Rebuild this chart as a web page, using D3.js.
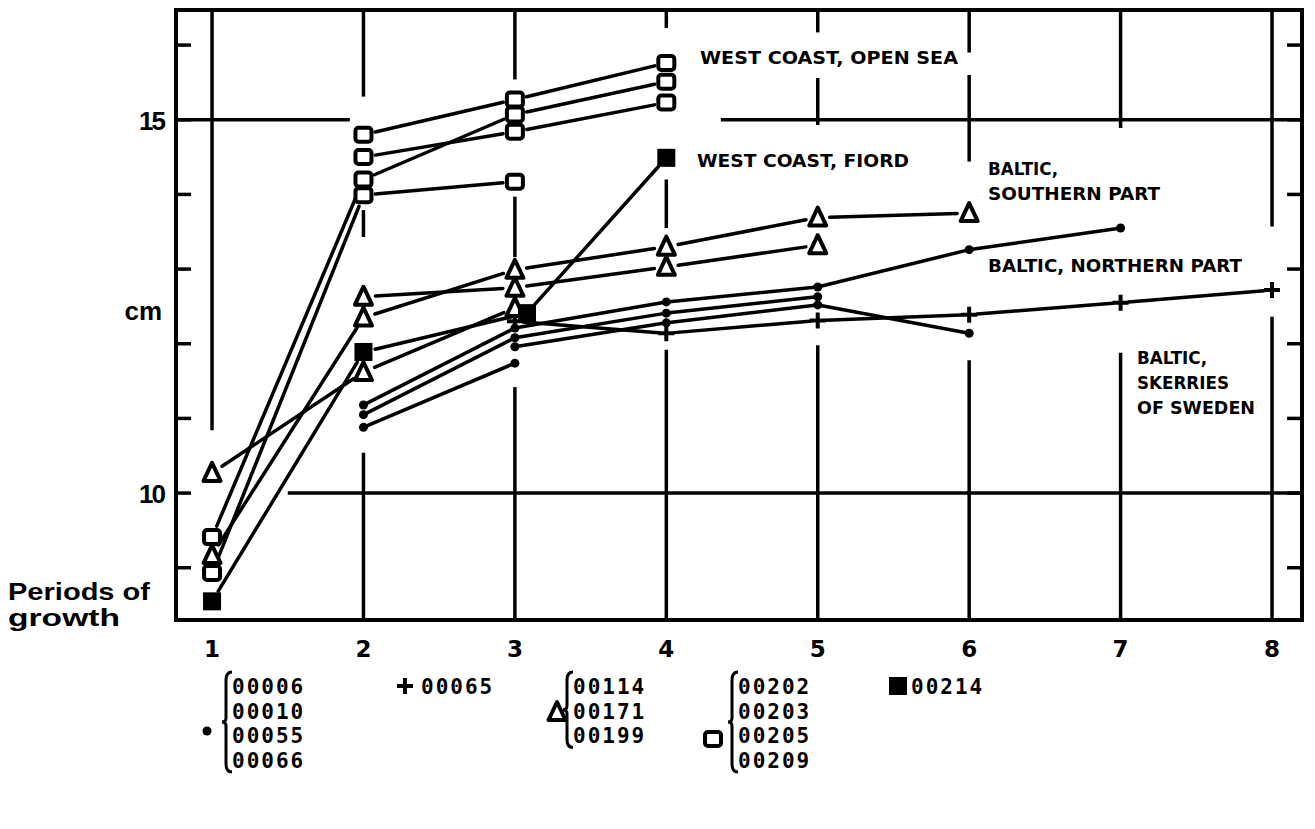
<!DOCTYPE html>
<html>
<head>
<meta charset="utf-8">
<script src="https://cdn.jsdelivr.net/npm/d3@7"></script>
<style>
  body { margin: 0; background: #fff; }
  svg { display: block; }
</style>
</head>
<body>
<div id="chart"></div>
<script>
// periods of growth on the x axis
var periods = [1, 2, 3, 4, 5, 6, 7, 8];
var yTicks = [9, 10, 11, 12, 13, 14, 15, 16];
var yLabels = [10, 15];

// lengths (cm), one value per period, null = no value
var dot00006 = [null, 11.18, 12.21, 12.56, 12.76, 13.26, 13.55];
var dot00010 = [null, 11.05, 12.08, 12.41, 12.63];
var dot00055 = [null, null, 11.96, 12.28, 12.52, 12.14];
var dot00066 = [null, 10.88, 11.74];
var plus00065 = [null, null, 12.30, 12.14, 12.31, 12.39, 12.55, 12.72];
var tri00114 = [9.17, 12.35, 12.99, 13.30, 13.69, 13.75];
var tri00171 = [null, 12.63, 12.75, 13.03, 13.32];
var tri00199 = [10.27, 11.62, 12.48];
var sq00202 = [null, 14.80, 15.27, 15.76];
var sq00203 = [null, 14.50, 14.84, 15.23];
var sq00205 = [9.41, 14.20, 15.07, 15.51];
var sq00209 = [8.93, 13.99, 14.17];
var fsq00214 = [8.55, 11.89, 12.41, 14.49];
var fsqPeriods = [1, 2, 3.08, 4];

var series = [
    {values: dot00006, shape: 'dot'},
    {values: dot00010, shape: 'dot'},
    {values: dot00055, shape: 'dot'},
    {values: dot00066, shape: 'dot'},
    {values: plus00065, shape: 'plus'},
    {values: tri00114, shape: 'tri'},
    {values: tri00171, shape: 'tri'},
    {values: tri00199, shape: 'tri'},
    {values: sq00202, shape: 'sq'},
    {values: sq00203, shape: 'sq'},
    {values: sq00205, shape: 'sq'},
    {values: sq00209, shape: 'sq'},
    {values: fsq00214, shape: 'fsq', periods: fsqPeriods}
];

// broken grid lines, as the original draws them around the data
var vGrid = [
    [1, [[16.47, 10.84]]],
    [2, [[16.47, 15.31], [13.79, 13.43], [10.54, 8.3]]],
    [3, [[16.47, 15.54], [13.97, 13.16], [11.42, 8.3]]],
    [4, [[16.47, 16.23], [14.20, 13.55], [11.92, 8.3]]],
    [5, [[16.47, 16.17], [15.56, 14.93], [11.98, 8.3]]],
    [6, [[16.47, 15.90], [15.60, 14.44], [11.78, 8.3]]],
    [7, [[16.47, 14.89], [11.88, 8.3]]],
    [8, [[16.47, 13.57], [12.36, 8.3]]]
];
var hGrid = [
    [15, [[0.762, 1.91], [4.36, 8.198]]],
    [10, [[1.50, 8.198]]]
];

var notes = [
    {lines: ['WEST COAST, OPEN SEA'], x: 700, y: 64, w: 258},
    {lines: ['WEST COAST, FIORD'], x: 697, y: 167, w: 212},
    {lines: ['BALTIC,', 'SOUTHERN PART'], x: 988, y: 175, w: [70, 172]},
    {lines: ['BALTIC, NORTHERN PART'], x: 988, y: 272, w: 254},
    {lines: ['BALTIC,', 'SKERRIES', 'OF SWEDEN'], x: 1137, y: 364, w: [70, 92, 118]}
];

var dim = {width: 1315, height: 829};

var svg = d3.select('#chart').append('svg')
    .attr('width', dim.width)
    .attr('height', dim.height);

svg.append('rect')
    .attr('width', dim.width)
    .attr('height', dim.height)
    .attr('fill', '#fff');

var x = d3.scaleLinear().domain([0.762, 8.198]).range([176, 1302]);
var y = d3.scaleLinear().domain([8.30, 16.47]).range([620, 10]);

var g = svg.append('g').attr('id', 'main_group');

// grid
vGrid.forEach(function (d) {
    d[1].forEach(function (s) {
        g.append('line')
            .attr('x1', x(d[0])).attr('x2', x(d[0]))
            .attr('y1', y(s[0])).attr('y2', y(s[1]))
            .attr('stroke', '#000').attr('stroke-width', 3.5);
    });
});
hGrid.forEach(function (d) {
    d[1].forEach(function (s) {
        g.append('line')
            .attr('x1', x(s[0])).attr('x2', x(s[1]))
            .attr('y1', y(d[0])).attr('y2', y(d[0]))
            .attr('stroke', '#000').attr('stroke-width', 3.5);
    });
});

// frame + ticks pointing inwards
g.append('rect')
    .attr('x', x(0.762)).attr('y', y(16.47))
    .attr('width', x(8.198) - x(0.762))
    .attr('height', y(8.30) - y(16.47))
    .attr('fill', 'none').attr('stroke', '#000').attr('stroke-width', 4);

g.selectAll('.ltick').data(yTicks).enter().append('line')
    .attr('x1', x(0.762)).attr('x2', x(0.762) + 15)
    .attr('y1', d => y(d)).attr('y2', d => y(d))
    .attr('stroke', '#000').attr('stroke-width', 3.5);
g.selectAll('.rtick').data(yTicks).enter().append('line')
    .attr('x1', x(8.198)).attr('x2', x(8.198) - 15)
    .attr('y1', d => y(d)).attr('y2', d => y(d))
    .attr('stroke', '#000').attr('stroke-width', 3.5);

// axis labels
g.selectAll('.ylab').data(yLabels).enter().append('text')
    .attr('x', 164).attr('y', d => y(d) + 10)
    .attr('text-anchor', 'end')
    .attr('font-family', 'Liberation Sans, Arial, sans-serif')
    .attr('font-weight', 'bold').attr('font-size', 26)
    .attr('letter-spacing', -2)
    .text(d => d);

g.append('text')
    .attr('x', 162).attr('y', y(12.43) + 8)
    .attr('text-anchor', 'end')
    .attr('font-family', 'Liberation Sans, Arial, sans-serif')
    .attr('font-weight', 'bold').attr('font-size', 26)
    .text('cm');

g.selectAll('.pg').data(['Periods of', 'growth']).enter().append('text')
    .attr('x', 8).attr('y', (d, i) => 600 + i * 26)
    .attr('font-family', 'Liberation Sans, Arial, sans-serif')
    .attr('font-weight', 'bold').attr('font-size', 24)
    .attr('textLength', (d, i) => i ? 112 : 142)
    .attr('lengthAdjust', 'spacingAndGlyphs')
    .text(d => d);

g.selectAll('.xlab').data(periods).enter().append('text')
    .attr('x', d => x(d)).attr('y', 657)
    .attr('text-anchor', 'middle')
    .attr('font-family', 'DejaVu Sans, sans-serif')
    .attr('font-weight', 'bold').attr('font-size', 23)
    .text(d => d);

// data lines, stopped short of the markers
var gapFor = {dot: 3, plus: 8, tri: 12, sq: 12, fsq: 12};

series.forEach(function (s) {
    var px = s.periods || periods;
    var pts = [];
    s.values.forEach(function (v, i) {
        if (v != null) pts.push({px: x(px[i]), py: y(v)});
    });
    s.pts = pts;
    var gap = gapFor[s.shape];
    for (var i = 0; i < pts.length - 1; i++) {
        var a = pts[i], b = pts[i + 1];
        var dx = b.px - a.px, dy = b.py - a.py;
        var len = Math.sqrt(dx * dx + dy * dy);
        var ux = dx / len, uy = dy / len;
        g.append('line')
            .attr('x1', a.px + ux * gap).attr('y1', a.py + uy * gap)
            .attr('x2', b.px - ux * gap).attr('y2', b.py - uy * gap)
            .attr('stroke', '#000').attr('stroke-width', 3.5)
            .attr('stroke-linecap', 'round');
    }
});

function drawMarker(sel, shape, cx, cy) {
    if (shape == 'dot') {
        sel.append('circle').attr('cx', cx).attr('cy', cy).attr('r', 4.5).attr('fill', '#000');
    } else if (shape == 'plus') {
        sel.append('path')
            .attr('d', `M${cx - 8},${cy}H${cx + 8}M${cx},${cy - 8}V${cy + 8}`)
            .attr('stroke', '#000').attr('stroke-width', 4);
    } else if (shape == 'tri') {
        sel.append('path')
            .attr('d', `M${cx},${cy - 10}L${cx + 8.5},${cy + 8}L${cx - 8.5},${cy + 8}Z`)
            .attr('fill', '#fff').attr('stroke', '#000').attr('stroke-width', 4)
            .attr('stroke-linejoin', 'round');
    } else if (shape == 'sq') {
        sel.append('rect')
            .attr('x', cx - 8).attr('y', cy - 7).attr('width', 16).attr('height', 14).attr('rx', 3)
            .attr('fill', '#fff').attr('stroke', '#000').attr('stroke-width', 4);
    } else if (shape == 'fsq') {
        sel.append('rect')
            .attr('x', cx - 9).attr('y', cy - 9).attr('width', 18).attr('height', 18)
            .attr('fill', '#000');
    }
}

series.forEach(function (s) {
    s.pts.forEach(function (p) { drawMarker(g, s.shape, p.px, p.py); });
});

// annotations
notes.forEach(function (n) {
    n.lines.forEach(function (t, i) {
        var w = Array.isArray(n.w) ? n.w[i] : n.w;
        g.append('text')
            .attr('x', n.x).attr('y', n.y + i * 25)
            .attr('font-family', 'DejaVu Sans, sans-serif')
            .attr('font-weight', 'bold').attr('font-size', 18)
            .attr('textLength', w).attr('lengthAdjust', 'spacingAndGlyphs')
            .text(t);
    });
});

// legend
var legDot = ['00006', '00010', '00055', '00066'];
var legPlus = ['00065'];
var legTri = ['00114', '00171', '00199'];
var legSq = ['00202', '00203', '00205', '00209'];
var legFsq = ['00214'];

var legend = svg.append('g').attr('id', 'legend');

function brace(x0, top, bottom) {
    var mid = (top + bottom) / 2;
    return `M${x0 + 6},${top} Q${x0},${top} ${x0},${top + 8} L${x0},${mid - 4} Q${x0},${mid} ${x0 - 4},${mid}` +
        ` Q${x0},${mid} ${x0},${mid + 4} L${x0},${bottom - 8} Q${x0},${bottom} ${x0 + 6},${bottom}`;
}

function legendText(c, tx, ty) {
    legend.append('text')
        .attr('x', tx).attr('y', ty)
        .attr('font-family', 'DejaVu Sans Mono, monospace')
        .attr('font-weight', 'bold').attr('font-size', 21)
        .attr('letter-spacing', 2)
        .text(c);
}

function legendBlock(codes, tx, marker, mx, my) {
    codes.forEach(function (c, i) {
        legendText(c, tx, 694 + i * 24.5);
    });
    if (codes.length > 1) {
        legend.append('path')
            .attr('d', brace(tx - 6, 672, 672 + codes.length * 24.5 + 2))
            .attr('fill', 'none').attr('stroke', '#000').attr('stroke-width', 3);
    }
    drawMarker(legend, marker, mx, my);
}

legendBlock(legDot, 232, 'dot', 207, 731);
legendBlock(legTri, 573, 'tri', 557, 712);
legendBlock(legSq, 738, 'sq', 713, 739);
legendBlock(legFsq, 911, 'fsq', 898, 686);

legend.append('path')
    .attr('d', 'M397,686H413M405,678V694')
    .attr('stroke', '#000').attr('stroke-width', 4);
legendText(legPlus[0], 421, 694);
</script>
</body>
</html>
